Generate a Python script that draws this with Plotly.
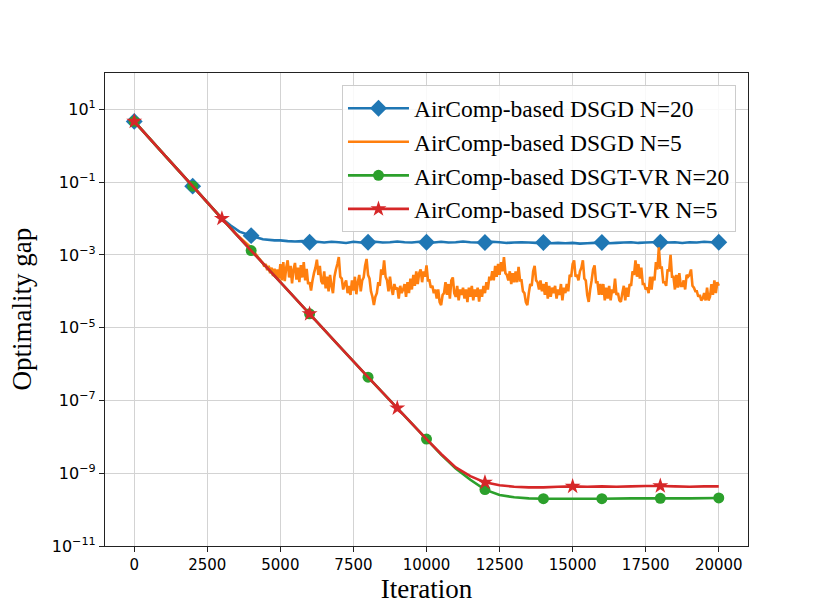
import plotly.graph_objects as go

# ---------------- data (log10 of optimality gap) ----------------
names = ["AirComp-based DSGD N=20", "AirComp-based DSGD N=5",
         "AirComp-based DSGT-VR N=20", "AirComp-based DSGT-VR N=5"]
colors = ["#1f77b4", "#ff7f0e", "#2ca02c", "#d62728"]

# shared decay (all methods coincide at start)
decay_x = [0, 1000, 2000, 3000]
decay_log = [0.67, -0.22, -1.11, -2.00]

# DSGD N=20
dsgd20_x = decay_x + [3300, 3600, 4000, 4400, 4800] + list(range(5000, 20001, 250))
dsgd20_log = decay_log + [-2.19, -2.36, -2.47, -2.57, -2.60,
    -2.60, -2.62, -2.63, -2.62, -2.65, -2.64, -2.66, -2.64, -2.65, -2.67, -2.64, -2.66,
    -2.65, -2.64, -2.66, -2.65, -2.63, -2.65, -2.66, -2.64, -2.65, -2.66, -2.64, -2.66,
    -2.65, -2.63, -2.65, -2.66, -2.66, -2.64, -2.65, -2.67, -2.66, -2.65, -2.66, -2.67,
    -2.66, -2.68, -2.67, -2.68, -2.67, -2.69, -2.68, -2.67, -2.66, -2.68, -2.67, -2.66,
    -2.65, -2.67, -2.66, -2.65, -2.65, -2.66, -2.65, -2.67, -2.65, -2.66, -2.64, -2.65,
    -2.65]

# DSGD N=5 (noisy), sampled every 50 iterations from 4000
dsgd5_x = decay_x + [3500] + list(range(4000, 20001, 50))
dsgd5_log = decay_log + [-2.44,
    -2.80, -2.86, -2.92, -2.97, -3.02, -3.08, -3.12, -3.18, -3.22, -3.32,
    -3.25, -3.42, -3.30, -3.50, -3.35, -3.58, -3.38, -3.62, -3.40, -3.65,
    -3.25, -3.70, -3.20, -3.72, -3.35, -3.15, -3.62, -3.30, -3.78, -3.40,
    -3.22, -3.68, -3.35, -3.75, -3.28, -3.62, -3.20, -3.70, -3.38, -3.80,
    -3.75, -3.98, -3.70, -3.50, -3.35, -3.13, -3.55, -3.30, -3.72, -3.80,
    -3.45, -3.92, -3.60, -4.00, -3.55, -3.85, -4.05, -3.60, -3.40, -3.25,
    -3.06, -3.60, -3.65, -3.95, -3.80, -3.70, -4.05, -3.85, -4.10, -3.70,
    -3.98, -3.60, -4.08, -3.75, -3.55, -4.00, -3.70, -3.62, -3.30, -3.11,
    -3.55, -3.65, -4.00, -4.15, -4.38, -4.15, -4.05, -3.75, -3.85, -3.40,
    -3.55, -3.15, -3.60, -3.70, -4.00, -3.60, -3.92, -4.10, -3.80, -3.95,
    -3.90, -4.20, -3.85, -4.05, -3.95, -3.80, -4.15, -3.75, -4.05, -3.65,
    -3.95, -3.55, -3.85, -3.45, -3.80, -3.50, -3.40, -3.75, -3.45, -3.60,
    -3.29, -3.70, -3.70, -3.90, -3.85, -4.05, -3.95, -4.20, -3.95, -4.30,
    -4.38, -4.10, -4.05, -3.75, -4.10, -3.80, -4.20, -3.70, -3.62, -4.05,
    -4.15, -3.85, -4.25, -3.95, -4.10, -3.90, -4.20, -3.95, -4.30, -3.90,
    -4.15, -3.85, -4.25, -3.95, -4.15, -3.90, -4.28, -3.95, -4.15, -3.85,
    -4.05, -3.75, -3.95, -3.60, -3.70, -3.45, -3.70, -3.30, -3.60, -3.25,
    -3.55, -3.20, -3.45, -3.06, -3.50, -3.55, -3.70, -3.45, -3.80, -3.50,
    -3.75, -3.45, -3.75, -3.33, -3.70, -3.70, -4.00, -4.05, -4.30, -4.38,
    -4.05, -3.80, -3.85, -3.45, -3.30, -3.70, -3.75, -3.95, -3.70, -4.00,
    -3.80, -4.10, -3.75, -4.20, -3.85, -4.15, -3.90, -4.05, -3.85, -4.20,
    -3.95, -4.10, -3.80, -4.25, -3.90, -4.05, -3.80, -4.00, -3.55, -3.60,
    -3.25, -3.15, -3.60, -3.55, -3.70, -3.45, -3.35, -3.15, -3.65, -3.70,
    -4.10, -4.29, -3.95, -3.70, -3.40, -3.29, -3.75, -3.75, -4.10, -3.80,
    -4.10, -3.80, -4.25, -3.90, -4.20, -3.85, -4.25, -3.95, -4.05, -3.65,
    -4.10, -4.05, -4.25, -4.29, -4.05, -3.85, -4.25, -3.90, -4.15, -3.80,
    -3.85, -3.45, -3.55, -3.15, -3.60, -3.25, -3.65, -3.35, -3.80, -3.80,
    -3.95, -3.90, -4.05, -3.60, -3.95, -3.60, -3.70, -3.20, -3.40, -2.79,
    -3.35, -3.35, -3.75, -3.75, -3.85, -3.40, -3.45, -3.00, -3.60, -3.60,
    -3.95, -3.55, -3.90, -3.50, -3.85, -3.85, -3.70, -3.95, -3.55, -3.60,
    -3.55, -3.40, -3.85, -3.90, -4.00, -4.00, -4.15, -4.10, -4.25, -4.20,
    -4.05, -4.25, -3.90, -4.25, -4.15, -3.80, -4.10, -3.70, -4.05, -3.75,
    -3.85]

# DSGT-VR N=20
vr20_x = decay_x + [4000, 5000, 6000, 7000, 8000, 9000, 10000, 10500, 11000, 11500, 12000, 12500,
                    13000, 13500, 14000, 15000, 16000, 17000, 18000, 19000, 20000]
vr20_log = decay_log + [-2.88, -3.75, -4.62, -5.49, -6.36, -7.21, -8.06, -8.49, -8.87, -9.18,
                        -9.45, -9.60, -9.66, -9.69, -9.70, -9.70, -9.70, -9.69, -9.69, -9.69, -9.68]

# DSGT-VR N=5
vr5_x = decay_x + [4000, 5000, 6000, 7000, 8000, 9000, 10000, 10500, 11000, 11500, 12000, 12500,
                   13000, 13500, 14000, 14500, 15000, 15500, 16000, 16500, 17000, 17500, 18000,
                   18500, 19000, 19500, 20000]
vr5_log = decay_log + [-2.88, -3.75, -4.62, -5.49, -6.36, -7.21, -8.06, -8.47, -8.84, -9.08,
                       -9.25, -9.33, -9.37, -9.39, -9.39, -9.37, -9.36, -9.37, -9.36, -9.37,
                       -9.36, -9.35, -9.35, -9.36, -9.37, -9.36, -9.36]

# marker positions (iterations)
dsgd20_marks = [0, 2000, 4000, 6000, 8000, 10000, 12000, 14000, 16000, 18000, 20000]
vr20_marks = [0, 2000, 4000, 6000, 8000, 10000, 12000, 14000, 16000, 18000, 20000]
vr5_marks = [0, 3000, 6000, 9000, 12000, 15000, 18000]

y_tick_exps = [1, -1, -3, -5, -7, -9, -11]
x_tick_vals = [0, 2500, 5000, 7500, 10000, 12500, 15000, 17500, 20000]

# ---------------- figure ----------------
def lin(vals):
    return [10 ** v for v in vals]

def pick(xs, ys, marks):
    d = dict(zip(xs, ys))
    return marks, [10 ** d[m] for m in marks]

series = [
    (dsgd20_x, dsgd20_log, dsgd20_marks, "diamond", 13),
    (dsgd5_x, dsgd5_log, None, None, 0),
    (vr20_x, vr20_log, vr20_marks, "circle", 11),
    (vr5_x, vr5_log, vr5_marks, "star", 12),
]

fig = go.Figure()
for (xs, ys, marks, sym, size), name, col in zip(series, names, colors):
    fig.add_trace(go.Scatter(x=xs, y=lin(ys), mode="lines",
                             line=dict(color=col, width=2.6, simplify=False),
                             showlegend=False, hoverinfo="skip"))
    if marks:
        mx, my = pick(xs, ys, marks)
        fig.add_trace(go.Scatter(x=mx, y=my, mode="markers",
                                 marker=dict(symbol=sym, size=size, color=col, line=dict(width=0)),
                                 showlegend=False, hoverinfo="skip"))
    fig.add_trace(go.Scatter(x=[None], y=[None], name=name,
                             mode="lines+markers" if marks else "lines",
                             line=dict(color=col, width=2.6),
                             marker=dict(symbol=sym or "circle", size=size if size else 1, color=col)))

axis_common = dict(showline=True, linecolor="#222222", linewidth=1.2, mirror=True,
                   ticks="outside", ticklen=5, tickwidth=1, tickcolor="#222222",
                   showgrid=True, gridcolor="#d3d3d3", gridwidth=1.2, zeroline=False)

fig.update_layout(
    width=830, height=614,
    margin=dict(l=97, r=90, t=65, b=76),
    paper_bgcolor="white", plot_bgcolor="white",
    xaxis=dict(range=[-1000, 21000], tickvals=x_tick_vals,
               ticktext=[str(v) for v in x_tick_vals],
               tickfont=dict(family="DejaVu Sans", size=15, color="#000000"),
               title=dict(text="Iteration", standoff=6,
                          font=dict(family="Liberation Serif", size=27, color="#000000")),
               **axis_common),
    yaxis=dict(type="log", range=[-11, 2], tickvals=[10 ** e for e in y_tick_exps],
               ticktext=["10<sup>%s</sup>" % (str(e).replace("-", "\u2212")) for e in y_tick_exps],
               tickfont=dict(family="DejaVu Sans", size=16, color="#000000"),
               **axis_common),
    legend=dict(x=0.981, y=0.974, xanchor="right", yanchor="top",
                bgcolor="rgba(255,255,255,0.85)", bordercolor="#cccccc", borderwidth=1.2,
                font=dict(family="Liberation Serif", size=23.5, color="#000000"),
                tracegroupgap=0, itemwidth=61),
    annotations=[dict(text="Optimality gap", xref="paper", yref="paper", x=-0.1306, y=0.5,
                      xanchor="center", yanchor="middle", textangle=-90, showarrow=False,
                      font=dict(family="Liberation Serif", size=27, color="#000000"))],
)

fig.write_html("out.html")
